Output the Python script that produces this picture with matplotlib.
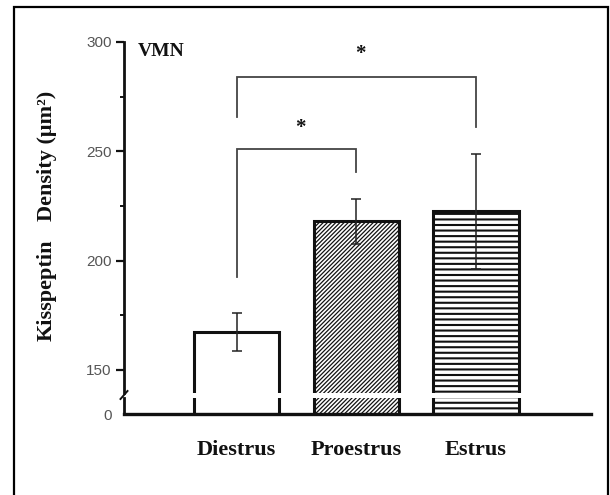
import matplotlib
matplotlib.use("Agg")
import matplotlib.pyplot as plt
from matplotlib.patches import Rectangle
from matplotlib.lines import Line2D

# ---- data ----
categories = ["Diestrus", "Proestrus", "Estrus"]
means = [167.5, 218.0, 222.5]
errors = [8.7, 10.3, 26.3]
hatches = ["", "////////", "---"]
yticks_major = [150, 200, 250, 300]
yticks_minor = [175, 225, 275]
# significance brackets: (left idx, right idx, left foot, top, right foot, star y)
brackets = [(0, 1, 192.7, 250.9, 240.7, 260.6),
            (0, 2, 265.8, 284.1, 261.0, 294.6)]

W, H = 610, 495
fig = plt.figure(figsize=(W / 100, H / 100), dpi=100)
fig.patch.set_facecolor("white")

SERIF = "Liberation Serif"
SANS = "Liberation Sans"

def fx(px):
    return px / W

def fy(py):
    return 1 - py / H

x_left, x_right = 124, 591
top_y0, top_y1 = 42, 393
bot_y0, bot_y1 = 398, 414
px_per_unit = (370 - 42) / 150.0

ax = fig.add_axes([fx(x_left), fy(top_y1), fx(x_right) - fx(x_left), fy(top_y0) - fy(top_y1)])
axb = fig.add_axes([fx(x_left), fy(bot_y1), fx(x_right) - fx(x_left), fy(bot_y0) - fy(bot_y1)])

pos = list(range(1, len(categories) + 1))
xlim = (0.06, 3.96)
ytop_low = 300 - (top_y1 - top_y0) / px_per_unit

for a in (ax, axb):
    bars = a.bar(pos, means, width=0.714, color="white", edgecolor="#111111",
                 linewidth=2.2, zorder=2)
    for b, h in zip(bars, hatches):
        b.set_hatch(h)
        try:
            b.set_hatch_linewidth(0.9 if h.startswith("/") else 1.5)
        except Exception:
            pass
    a.set_xlim(*xlim)
    a.set_facecolor("none")
    for s in ("top", "right"):
        a.spines[s].set_visible(False)

ax.errorbar(pos, means, yerr=errors, fmt="none", ecolor="#222222", elinewidth=1.1,
            capsize=3.5, capthick=1.1, zorder=3)

ax.set_ylim(ytop_low, 300)
ax.spines["bottom"].set_visible(False)
ax.spines["left"].set_linewidth(2.0)
ax.spines["left"].set_color("#111111")
ax.set_xticks([])
ax.set_yticks(yticks_major)
ax.set_yticks(yticks_minor, minor=True)
ax.tick_params(axis="y", which="major", direction="out", length=5.8, width=1.6,
               pad=3, labelsize=11, labelcolor="#555555", color="#111111")
ax.tick_params(axis="y", which="minor", direction="out", length=3, width=1.4, color="#111111")
for t in ax.get_yticklabels():
    t.set_fontfamily(SANS)

axb.set_ylim(0, (bot_y1 - bot_y0) / px_per_unit)
axb.spines["left"].set_linewidth(2.0)
axb.spines["bottom"].set_linewidth(2.4)
axb.spines["left"].set_color("#111111")
axb.spines["bottom"].set_color("#111111")
axb.set_yticks([0])
axb.set_yticklabels(["0"])
axb.tick_params(axis="y", length=0, pad=9, labelsize=11, labelcolor="#555555")
for t in axb.get_yticklabels():
    t.set_fontfamily(SANS)
axb.set_xticks(pos)
axb.set_xticklabels(categories)
axb.tick_params(axis="x", length=0, pad=19)
for t in axb.get_xticklabels():
    t.set_fontfamily(SERIF)
    t.set_fontweight("bold")
    t.set_fontsize(16)
    t.set_color("#111111")

# axis break mark
fig.add_artist(Line2D([fx(120.5), fx(127.5)], [fy(399), fy(391)], color="#111111", lw=1.4))

# brackets
for li, ri, lf, top, rf, sy in brackets:
    xl, xr = pos[li], pos[ri]
    ax.plot([xl, xl, xr, xr], [lf, top, top, rf], color="#444444", lw=1.3,
            solid_joinstyle="miter", zorder=4, clip_on=False)
    ax.text((xl + xr) / 2 + 0.03, sy, "*", ha="center", va="center", fontsize=15,
            fontweight="bold", family=SERIF, color="#111111")

ax.text(fx(138), fy(51), "VMN", transform=fig.transFigure, ha="left", va="center",
        family=SERIF, fontweight="bold", fontsize=14, color="#111111")

# y label
fig.text(fx(47), fy(290), "Kisspeptin", rotation=90, ha="center", va="center",
         family=SERIF, fontweight="bold", fontsize=16, color="#111111")
fig.text(fx(47), fy(156), "Density (\u03bcm\u00b2)", rotation=90, ha="center", va="center",
         family=SERIF, fontweight="bold", fontsize=16, color="#111111")

# outer frame
fig.add_artist(Rectangle((fx(14), fy(505)), fx(608) - fx(14), fy(7) - fy(505),
                         transform=fig.transFigure, fill=False, edgecolor="black",
                         linewidth=1.6, clip_on=False))

fig.savefig("out.png", dpi=100, facecolor="white")
